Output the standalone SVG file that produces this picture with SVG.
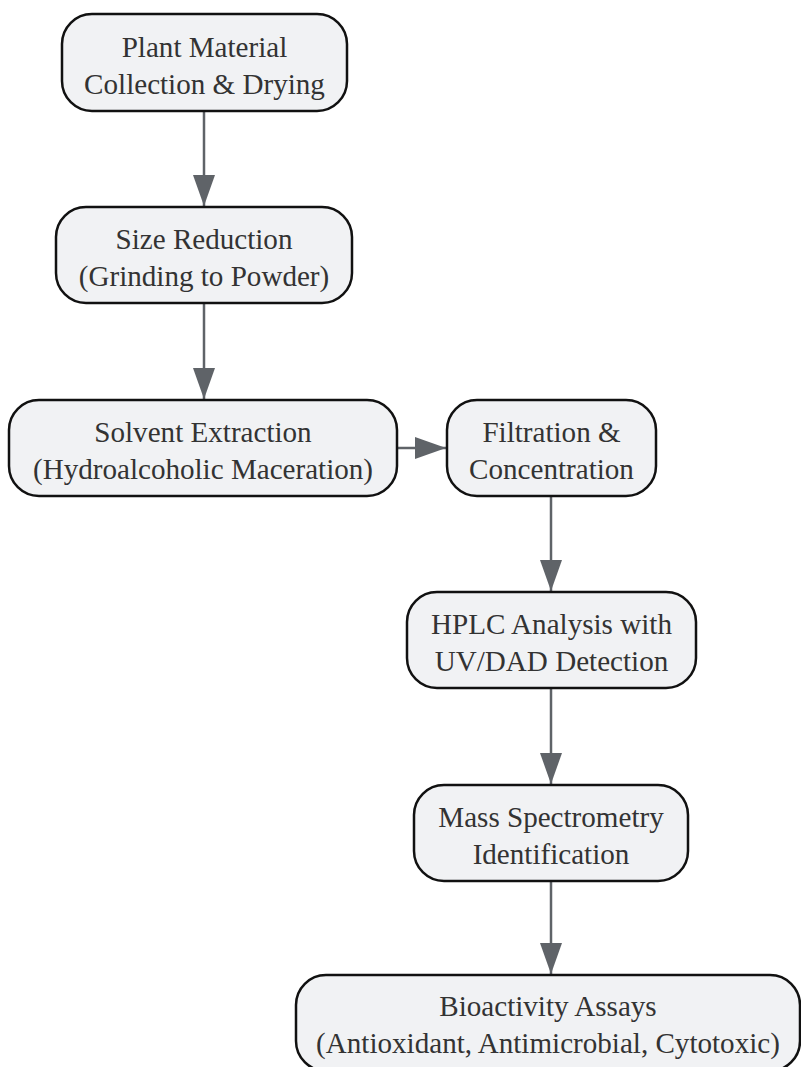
<svg xmlns="http://www.w3.org/2000/svg" width="801" height="1067" viewBox="0 0 801 1067">
<style>
.node rect{fill:#f1f2f4;stroke:#111;stroke-width:2.5}
.node text{font-family:"Liberation Serif","Times New Roman",serif;font-size:29.1px;fill:#333;text-anchor:middle}
.edge{stroke:#5f6368;stroke-width:2.5;fill:none}
</style>
<defs>
<marker id="arr" markerUnits="userSpaceOnUse" markerWidth="32" markerHeight="24" refX="31" refY="11" orient="auto">
<path d="M0,0 L31,11 L0,22 Z" fill="#5f6368"/>
</marker>
</defs>
<rect width="801" height="1067" fill="#ffffff"/>
<g id="connectors">
<line class="edge" x1="204" y1="111" x2="204" y2="206" marker-end="url(#arr)"/>
<line class="edge" x1="204" y1="303" x2="204" y2="399" marker-end="url(#arr)"/>
<line class="edge" x1="397" y1="448" x2="446" y2="448" marker-end="url(#arr)"/>
<line class="edge" x1="551" y1="496" x2="551" y2="591" marker-end="url(#arr)"/>
<line class="edge" x1="551" y1="688" x2="551" y2="784" marker-end="url(#arr)"/>
<line class="edge" x1="551" y1="881" x2="551" y2="974" marker-end="url(#arr)"/>
</g>
<g id="n1" class="node">
<rect x="62" y="14" width="285" height="97" rx="30"/>
<text x="204.5" y="57">Plant Material</text>
<text x="204.5" y="94">Collection &amp; Drying</text>
</g>
<g id="n2" class="node">
<rect x="56" y="207" width="296" height="96" rx="30"/>
<text x="204" y="249">Size Reduction</text>
<text x="204" y="286">(Grinding to Powder)</text>
</g>
<g id="n3" class="node">
<rect x="9" y="400" width="388" height="96" rx="30"/>
<text x="203" y="442">Solvent Extraction</text>
<text x="203" y="479">(Hydroalcoholic Maceration)</text>
</g>
<g id="n4" class="node">
<rect x="447" y="400" width="209" height="96" rx="30"/>
<text x="551.5" y="442">Filtration &amp;</text>
<text x="551.5" y="479">Concentration</text>
</g>
<g id="n5" class="node">
<rect x="407" y="592" width="289" height="96" rx="30"/>
<text x="551.5" y="634">HPLC Analysis with</text>
<text x="551.5" y="671">UV/DAD Detection</text>
</g>
<g id="n6" class="node">
<rect x="414" y="785" width="274" height="96" rx="30"/>
<text x="551" y="827">Mass Spectrometry</text>
<text x="551" y="864">Identification</text>
</g>
<g id="n7" class="node">
<rect x="296" y="975" width="504" height="96" rx="30"/>
<text x="548" y="1016">Bioactivity Assays</text>
<text x="548" y="1053">(Antioxidant, Antimicrobial, Cytotoxic)</text>
</g>
</svg>
